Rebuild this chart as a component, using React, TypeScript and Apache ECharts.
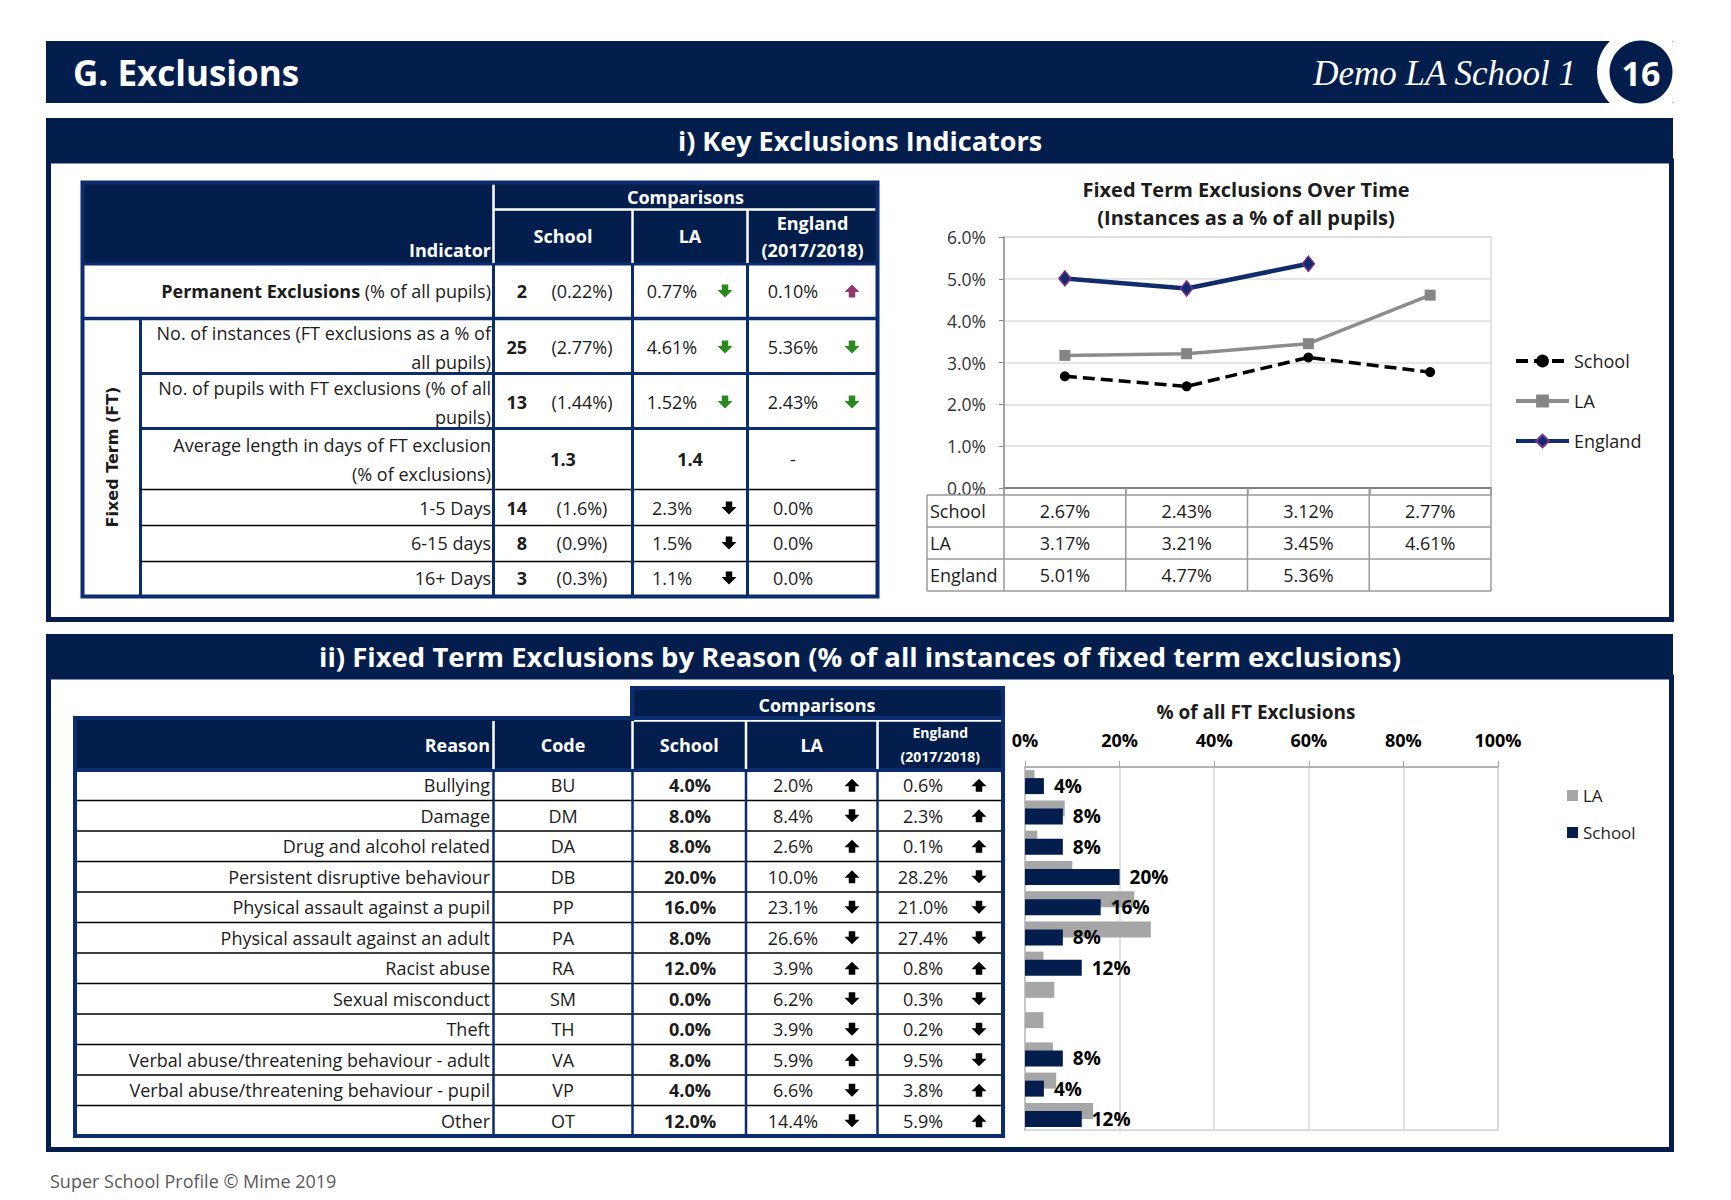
import React, { useEffect, useRef } from "react";
import * as echarts from "echarts";

// ---------------- DATA ----------------
// Fixed term exclusions over time (instances as a % of all pupils)
const periods = ["Period 1", "Period 2", "Period 3", "Period 4"];
const rateNames = ["School", "LA", "England"];
const schoolRate: (number | null)[] = [2.67, 2.43, 3.12, 2.77];
const laRate: (number | null)[] = [3.17, 3.21, 3.45, 4.61];
const englandRate: (number | null)[] = [5.01, 4.77, 5.36, null];
const rateTicks = { min: 0, max: 6, interval: 1 };

// Key exclusions indicators table
const indicatorLines: string[][] = [
  ["Permanent Exclusions", " (% of all pupils)"],
  ["No. of instances (FT exclusions as a % of", "all pupils)"],
  ["No. of pupils with FT exclusions (% of all", "pupils)"],
  ["Average length in days of FT exclusion", "(% of exclusions)"],
  ["1-5 Days"],
  ["6-15 days"],
  ["16+ Days"],
];
const indSchoolCount = ["2", "25", "13", "1.3", "14", "8", "3"];
const indSchoolPct = ["(0.22%)", "(2.77%)", "(1.44%)", "", "(1.6%)", "(0.9%)", "(0.3%)"];
const indLA = ["0.77%", "4.61%", "1.52%", "1.4", "2.3%", "1.5%", "1.1%"];
const indLAArrow = ["down-g", "down-g", "down-g", "", "down-k", "down-k", "down-k"];
const indEng = ["0.10%", "5.36%", "2.43%", "-", "0.0%", "0.0%", "0.0%"];
const indEngArrow = ["up-p", "down-g", "down-g", "", "", "", ""];

// Fixed term exclusions by reason
const reasons = [
  "Bullying",
  "Damage",
  "Drug and alcohol related",
  "Persistent disruptive behaviour",
  "Physical assault against a pupil",
  "Physical assault against an adult",
  "Racist abuse",
  "Sexual misconduct",
  "Theft",
  "Verbal abuse/threatening behaviour - adult",
  "Verbal abuse/threatening behaviour - pupil",
  "Other",
];
const reasonCodes = ["BU", "DM", "DA", "DB", "PP", "PA", "RA", "SM", "TH", "VA", "VP", "OT"];
const reasonSchool = [4, 8, 8, 20, 16, 8, 12, 0, 0, 8, 4, 12];
const reasonLA = [2.0, 8.4, 2.6, 10.0, 23.1, 26.6, 3.9, 6.2, 3.9, 5.9, 6.6, 14.4];
const reasonEng = [0.6, 2.3, 0.1, 28.2, 21.0, 27.4, 0.8, 0.3, 0.2, 9.5, 3.8, 5.9];
const pctTicks = { min: 0, max: 100, interval: 20 };

// ---------------- STYLE ----------------
const NAVY = "#031E4C";
const LNAVY = "#0B2C6F";
const FONT = '"Open Sans", "DejaVu Sans", sans-serif';
const TXT = "#1c1c1c";
const GREEN = "#2A8A1F";
const PURPLE = "#8E3A6E";

type TO = {
  size?: number;
  bold?: boolean;
  italic?: boolean;
  family?: string;
  fill?: string;
  align?: string;
  lineHeight?: number;
  rotation?: number;
  rich?: any;
  z?: number;
};

function txt(x: number, y: number, text: string, o: TO = {}) {
  const font = `${o.italic ? "italic " : ""}${o.bold ? "bold " : ""}${o.size ?? 18}px ${o.family ?? FONT}`;
  const el: any = {
    type: "text",
    x,
    y,
    z: o.z ?? 20,
    silent: true,
    style: {
      text,
      fill: o.fill ?? TXT,
      font,
      textAlign: o.align ?? "center",
      textVerticalAlign: "middle",
      align: o.align ?? "center",
      verticalAlign: "middle",
    },
  };
  if (o.lineHeight) el.style.lineHeight = o.lineHeight;
  if (o.rich) el.style.rich = o.rich;
  if (o.rotation) el.rotation = o.rotation;
  return el;
}
function rect(x: number, y: number, w: number, h: number, fill: string, stroke?: string, lw = 0, z = 1) {
  return {
    type: "rect",
    z,
    silent: true,
    shape: { x, y, width: w, height: h },
    style: { fill: fill, stroke: stroke ?? null, lineWidth: lw },
  };
}
function line(x1: number, y1: number, x2: number, y2: number, stroke: string, lw: number, z = 3) {
  return { type: "line", z, silent: true, shape: { x1, y1, x2, y2 }, style: { stroke, lineWidth: lw } };
}
function arrow(cx: number, cy: number, kind: string) {
  if (!kind) return null;
  const dir = kind.startsWith("up") ? "up" : "down";
  const c = kind.endsWith("g") ? GREEN : kind.endsWith("p") ? PURPLE : "#000";
  const W = 15, H = 13, hh = 7.5, sw = 6.5;
  const s = dir === "down" ? 1 : -1;
  const y0 = cy - (s * H) / 2;
  const y1 = cy + (s * H) / 2 - s * hh;
  const tip = cy + (s * H) / 2;
  return {
    type: "polygon",
    z: 20,
    silent: true,
    shape: {
      points: [
        [cx - sw / 2, y0],
        [cx + sw / 2, y0],
        [cx + sw / 2, y1],
        [cx + W / 2, y1],
        [cx, tip],
        [cx - W / 2, y1],
        [cx - sw / 2, y1],
      ],
    },
    style: { fill: c },
  };
}

// layout constants
const L1 = { left: 1004, top: 237, width: 487, height: 251 };
const L2 = { left: 1025, top: 767, width: 473, height: 363 };

function buildGraphics() {
  const g: any[] = [];
  // page header
  g.push(rect(46, 41, 1627, 62, NAVY));
  g.push({ type: "circle", z: 5, silent: true, shape: { cx: 1641, cy: 72, r: 44 }, style: { fill: "#fff" } });
  g.push({ type: "circle", z: 6, silent: true, shape: { cx: 1641, cy: 72, r: 31.5 }, style: { fill: NAVY } });
  g.push(txt(1641, 73, "16", { bold: true, size: 34, fill: "#fff", z: 7 }));
  g.push(txt(73, 72, "G. Exclusions", { bold: true, size: 35, fill: "#fff", align: "left" }));
  g.push(txt(1576, 73, "Demo LA School 1", { italic: true, size: 35, family: '"Liberation Serif", serif', fill: "#fff", align: "right" }));

  // section frames
  g.push(rect(46, 118, 1627, 43, NAVY));
  g.push(txt(860, 140, "i) Key Exclusions Indicators", { bold: true, size: 27, fill: "#fff" }));
  g.push(rect(48.5, 161, 1623, 458.5, "none", NAVY, 5, 1));
  g.push(rect(46, 634, 1627, 43, NAVY));
  g.push(
    txt(860, 656, "ii) Fixed Term Exclusions by Reason (% of all instances of fixed term exclusions)", {
      bold: true,
      size: 27.5,
      fill: "#fff",
    })
  );
  g.push(rect(48.5, 677, 1623, 472.5, "none", NAVY, 5, 1));
  g.push(txt(50, 1181, "Super School Profile © Mime 2019", { size: 18, fill: "#595959", align: "left" }));

  // ---------- table 1 ----------
  const T1 = { l: 82.5, r: 877.5, t: 182.5, b: 596.5, hb: 264 };
  const c1 = [493.5, 632.5, 747.5];
  const rowEdges = [264, 318.5, 373.5, 428.5, 489.5, 525.5, 561.5, 596.5];
  const rowMid = [291, 347, 402, 459, 508, 543, 578];
  g.push(rect(T1.l, T1.t, T1.r - T1.l, T1.hb - T1.t, NAVY));
  g.push(line(c1[0], T1.t + 2, c1[0], T1.hb - 1, "#fff", 2.5, 4));
  g.push(line(c1[0], 209.5, T1.r - 2, 209.5, "#fff", 2.5, 4));
  g.push(line(c1[1], 210, c1[1], T1.hb - 1, "#fff", 2.5, 4));
  g.push(line(c1[2], 210, c1[2], T1.hb - 1, "#fff", 2.5, 4));
  g.push(line(T1.l, T1.hb, T1.r, T1.hb, LNAVY, 3));
  g.push(line(T1.l, rowEdges[1], T1.r, rowEdges[1], LNAVY, 3.5));
  g.push(line(140.5, rowEdges[1], 140.5, T1.b, LNAVY, 3));
  for (let i = 2; i < rowEdges.length - 1; i++) {
    const navy = i <= 3;
    g.push(line(140.5, rowEdges[i], T1.r, rowEdges[i], navy ? LNAVY : "#000", navy ? 3 : 1.5));
  }
  c1.forEach((x) => g.push(line(x, T1.hb, x, T1.b, LNAVY, 3)));
  g.push(rect(T1.l, T1.t, T1.r - T1.l, T1.b - T1.t, "none", LNAVY, 4, 5));

  g.push(txt(491, 250, "Indicator", { bold: true, fill: "#fff", align: "right" }));
  g.push(txt((c1[0] + T1.r) / 2, 197, "Comparisons", { bold: true, fill: "#fff" }));
  g.push(txt((c1[0] + c1[1]) / 2, 236, "School", { bold: true, fill: "#fff" }));
  g.push(txt((c1[1] + c1[2]) / 2, 236, "LA", { bold: true, fill: "#fff" }));
  g.push(txt((c1[2] + T1.r) / 2, 223, "England", { bold: true, fill: "#fff" }));
  g.push(txt((c1[2] + T1.r) / 2, 250, "(2017/2018)", { bold: true, fill: "#fff" }));
  g.push(txt(112, 457, "Fixed Term (FT)", { bold: true, size: 16, family: '"DejaVu Sans", sans-serif', rotation: Math.PI / 2 }));

  indicatorLines.forEach((ln, i) => {
    const y = rowMid[i];
    if (i === 0) {
      g.push({
        ...txt(491, y, `{b|${ln[0]}}{r|${ln[1]}}`, { align: "right" }),
      });
      const last = g[g.length - 1];
      last.style.rich = {
        b: { fontFamily: FONT, fontSize: 18, fontWeight: "bold", fill: TXT, font: `bold 18px ${FONT}` },
        r: { fontFamily: FONT, fontSize: 18, fontWeight: "normal", fill: TXT, font: `18px ${FONT}` },
      };
    } else {
      g.push(txt(491, y, ln.join("\n"), { align: "right", lineHeight: 29 }));
    }
    if (i === 3) {
      g.push(txt((c1[0] + c1[1]) / 2, y, indSchoolCount[i], { bold: true }));
      g.push(txt((c1[1] + c1[2]) / 2, y, indLA[i], { bold: true }));
      g.push(txt(793, y, indEng[i]));
    } else {
      g.push(txt(527, y, indSchoolCount[i], { bold: true, align: "right" }));
      g.push(txt(582, y, indSchoolPct[i]));
      g.push(txt(672, y, indLA[i]));
      g.push(txt(793, y, indEng[i]));
      const a1 = arrow(indLAArrow[i].endsWith("k") ? 729 : 725, y, indLAArrow[i]);
      if (a1) g.push(a1);
      const a2 = arrow(852, y, indEngArrow[i]);
      if (a2) g.push(a2);
    }
  });

  // ---------- line chart data table ----------
  const dtTop = 495, dtRow = 32, dtLeft = 927;
  const colW = L1.width / periods.length;
  const gray = "#9A9A9A";
  for (let r = 0; r <= rateNames.length; r++) {
    g.push(line(dtLeft, dtTop + r * dtRow, L1.left + L1.width, dtTop + r * dtRow, gray, 1.5));
  }
  g.push(line(dtLeft, dtTop, dtLeft, dtTop + 3 * dtRow, gray, 1.5));
  for (let c = 0; c <= periods.length; c++) {
    const x = L1.left + c * colW;
    g.push(line(x, L1.top + L1.height, x, dtTop + 3 * dtRow, gray, 1.5));
  }
  const rateData = [schoolRate, laRate, englandRate];
  rateNames.forEach((nm, r) => {
    const y = dtTop + r * dtRow + dtRow / 2;
    g.push(txt(dtLeft + 3, y, nm, { size: 18, align: "left" }));
    rateData[r].forEach((v, c) => {
      if (v == null) return;
      g.push(txt(L1.left + (c + 0.5) * colW, y, v.toFixed(2) + "%", { size: 18 }));
    });
  });
  g.push(txt(1246, 189, "Fixed Term Exclusions Over Time", { bold: true, size: 20 }));
  g.push(txt(1246, 217, "(Instances as a % of all pupils)", { bold: true, size: 20 }));

  // ---------- table 2 ----------
  const T2 = { l: 75, r: 1003, t: 718, hb: 770, rowH: 30.5 };
  const c2 = [493.5, 632.5, 746, 877.5];
  const t2b = T2.hb + T2.rowH * reasons.length;
  g.push(rect(632, 688, T2.r - 632, 32, NAVY, LNAVY, 4, 1));
  g.push(rect(T2.l, T2.t, T2.r - T2.l, T2.hb - T2.t, NAVY));
  g.push(line(634, 720.5, T2.r - 2, 720.5, "#fff", 2.5, 4));
  c2.forEach((x) => g.push(line(x, T2.t + 3, x, T2.hb - 1, "#fff", 2.5, 4)));
  for (let i = 1; i < reasons.length; i++) {
    g.push(line(T2.l, T2.hb + i * T2.rowH, T2.r, T2.hb + i * T2.rowH, "#000", 1.5));
  }
  c2.forEach((x) => g.push(line(x, T2.hb, x, t2b, LNAVY, 2.5)));
  g.push(line(T2.l, T2.hb, T2.r, T2.hb, LNAVY, 4));
  g.push(rect(T2.l, T2.t, T2.r - T2.l, t2b - T2.t, "none", LNAVY, 4, 5));

  g.push(txt(817, 705, "Comparisons", { bold: true, fill: "#fff" }));
  g.push(txt(490, 745, "Reason", { bold: true, fill: "#fff", align: "right" }));
  g.push(txt((c2[0] + c2[1]) / 2, 745, "Code", { bold: true, fill: "#fff" }));
  g.push(txt((c2[1] + c2[2]) / 2, 745, "School", { bold: true, fill: "#fff" }));
  g.push(txt((c2[2] + c2[3]) / 2, 745, "LA", { bold: true, fill: "#fff" }));
  g.push(txt((c2[3] + T2.r) / 2, 732, "England", { bold: true, fill: "#fff", size: 14 }));
  g.push(txt((c2[3] + T2.r) / 2, 756, "(2017/2018)", { bold: true, fill: "#fff", size: 14 }));

  reasons.forEach((rs, i) => {
    const y = T2.hb + (i + 0.5) * T2.rowH;
    g.push(txt(490, y, rs, { align: "right" }));
    g.push(txt((c2[0] + c2[1]) / 2, y, reasonCodes[i]));
    g.push(txt(690, y, reasonSchool[i].toFixed(1) + "%", { bold: true }));
    g.push(txt(793, y, reasonLA[i].toFixed(1) + "%"));
    g.push(arrow(852, y, reasonSchool[i] >= reasonLA[i] ? "up-k" : "down-k"));
    g.push(txt(923, y, reasonEng[i].toFixed(1) + "%"));
    g.push(arrow(979, y, reasonSchool[i] >= reasonEng[i] ? "up-k" : "down-k"));
  });
  g.push(txt(1256, 712, "% of all FT Exclusions", { bold: true, size: 19 }));

  return g;
}

function buildOption(): any {
  return {
    animation: false,
    textStyle: { fontFamily: FONT },
    graphic: { elements: buildGraphics() },
    grid: [
      { ...L1, show: true, borderColor: "#D9D9D9", borderWidth: 1.5, containLabel: false },
      { ...L2, show: true, borderColor: "#CFCFCF", borderWidth: 1.5, containLabel: false },
    ],
    legend: [
      {
        data: rateNames,
        orient: "vertical",
        left: 1514,
        top: 352,
        padding: 0,
        itemWidth: 53,
        itemHeight: 16,
        itemGap: 22,
        lineStyle: { width: 4 },
        textStyle: { fontSize: 18, color: TXT, fontFamily: FONT },
      },
      {
        data: ["LA ", "School "],
        orient: "vertical",
        left: 1567,
        top: 787,
        padding: 0,
        icon: "rect",
        itemWidth: 11,
        itemHeight: 11,
        itemGap: 20,
        formatter: (n: string) => n.trim(),
        textStyle: { fontSize: 17, color: TXT, fontFamily: FONT },
      },
    ],
    xAxis: [
      {
        type: "category",
        gridIndex: 0,
        data: periods,
        boundaryGap: true,
        axisLine: { lineStyle: { color: "#7F7F7F", width: 2 } },
        axisTick: { show: true, length: 7, lineStyle: { color: "#9A9A9A", width: 1.5 } },
        axisLabel: { show: false },
        splitLine: { show: false },
      },
      {
        type: "value",
        gridIndex: 1,
        position: "top",
        ...pctTicks,
        axisLine: { show: true, lineStyle: { color: "#A6A6A6", width: 1.5 } },
        axisTick: { show: true, length: 6, lineStyle: { color: "#A6A6A6" } },
        axisLabel: {
          formatter: "{value}%",
          fontWeight: "bold",
          fontSize: 18,
          color: "#000",
          margin: 18,
          fontFamily: FONT,
        },
        splitLine: { show: true, lineStyle: { color: "#D9D9D9", width: 1.5 } },
      },
    ],
    yAxis: [
      {
        type: "value",
        gridIndex: 0,
        ...rateTicks,
        axisLine: { show: true, lineStyle: { color: "#8C8C8C", width: 1.5 } },
        axisTick: { show: true, length: 5, lineStyle: { color: "#8C8C8C" } },
        axisLabel: {
          formatter: (v: number) => v.toFixed(1) + "%",
          fontSize: 17.5,
          color: "#333",
          margin: 18,
          fontFamily: FONT,
        },
        splitLine: { show: true, lineStyle: { color: "#DCDCDC", width: 1.5 } },
      },
      {
        type: "category",
        gridIndex: 1,
        data: reasons,
        inverse: true,
        axisLine: { show: true, lineStyle: { color: "#BFBFBF", width: 1.5 } },
        axisTick: { show: false },
        axisLabel: { show: false },
        splitLine: { show: false },
      },
    ],
    series: [
      {
        name: "School",
        type: "line",
        xAxisIndex: 0,
        yAxisIndex: 0,
        data: schoolRate,
        symbol: "circle",
        symbolSize: 10,
        itemStyle: { color: "#000" },
        lineStyle: { color: "#000", width: 3.5, type: [12, 6] },
        z: 3,
      },
      {
        name: "LA",
        type: "line",
        xAxisIndex: 0,
        yAxisIndex: 0,
        data: laRate,
        symbol: "rect",
        symbolSize: 11,
        itemStyle: { color: "#858585" },
        lineStyle: { color: "#8C8C8C", width: 3.5 },
        z: 4,
      },
      {
        name: "England",
        type: "line",
        xAxisIndex: 0,
        yAxisIndex: 0,
        data: englandRate,
        symbol: "diamond",
        symbolSize: [12, 15],
        itemStyle: { color: "#102C6C", borderColor: "#7B2C8F", borderWidth: 1.5 },
        lineStyle: { color: "#102C6C", width: 4.5 },
        z: 5,
      },
      {
        name: "LA ",
        type: "bar",
        xAxisIndex: 1,
        yAxisIndex: 1,
        data: reasonLA,
        barWidth: 16,
        barGap: "-50%",
        itemStyle: { color: "#A6A6A6" },
      },
      {
        name: "School ",
        type: "bar",
        xAxisIndex: 1,
        yAxisIndex: 1,
        data: reasonSchool,
        barWidth: 16,
        barGap: "-50%",
        itemStyle: { color: NAVY },
        label: {
          show: true,
          position: "right",
          distance: 10,
          formatter: (p: any) => (p.value > 0 ? p.value + "%" : ""),
          fontWeight: "bold",
          fontSize: 19,
          color: "#000",
          fontFamily: FONT,
        },
      },
    ],
  };
}

export default function App() {
  const ref = useRef<HTMLDivElement>(null);
  useEffect(() => {
    if (!ref.current) return;
    const chart = echarts.init(ref.current, null, { renderer: "svg" });
    chart.setOption(buildOption());
    return () => chart.dispose();
  }, []);
  return (
    <div
      ref={ref}
      style={{ position: "fixed", left: 0, top: 0, width: 1731, height: 1200, background: "#fff" }}
    />
  );
}
